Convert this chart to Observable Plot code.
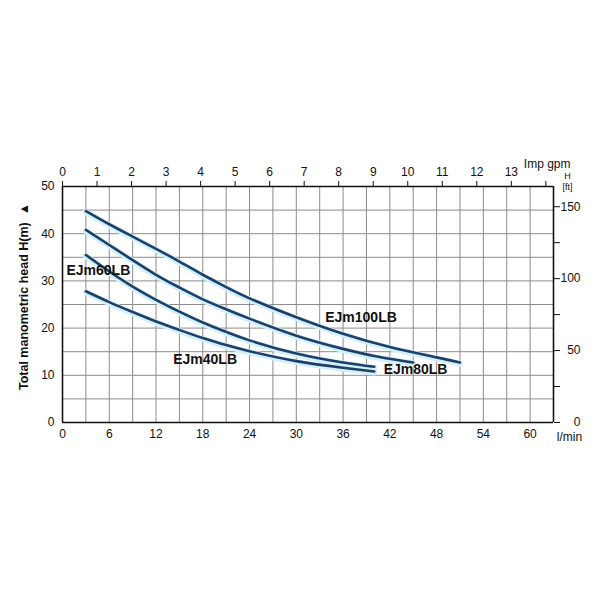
<!DOCTYPE html>
<html>
<head>
<meta charset="utf-8">
<script src="https://cdn.jsdelivr.net/npm/d3@7"></script>
<script src="https://cdn.jsdelivr.net/npm/@observablehq/plot@0.6"></script>
<style>
  html, body { margin: 0; padding: 0; background: #fff; }
  #chart svg { display: block; font-family: "Liberation Sans", Arial, sans-serif; }
</style>
</head>
<body>
<div id="chart"></div>
<script>
// Flow (l/min) and head (m) for each pump model
const q100 = [3, 6, 9, 12, 15, 18, 21, 24, 30, 36, 42, 48, 51];
const h100 = [44.8, 42, 39.4, 36.8, 34.1, 31.3, 28.7, 26.3, 22.3, 18.8, 16, 13.8, 12.7];
const q80 = [3, 6, 9, 12, 15, 18, 21, 24, 30, 36, 40, 45];
const h80 = [40.8, 37.6, 34.4, 31.3, 28.6, 26.1, 24, 22, 18.4, 15.6, 14.1, 12.7];
const q60 = [3, 6, 9, 12, 15, 18, 21, 24, 30, 36, 40];
const h60 = [35.5, 32, 28.8, 26, 23.5, 21.2, 19.2, 17.4, 14.6, 12.7, 11.8];
const q40 = [3, 6, 9, 12, 15, 18, 21, 24, 30, 36, 40];
const h40 = [27.8, 25.5, 23.4, 21.4, 19.6, 17.9, 16.4, 15.1, 13, 11.6, 10.8];

// Curve labels
const labelNames = ["EJm60LB", "EJm100LB", "EJm80LB", "EJm40LB"];
const labelX = [4.6, 38.3, 45.3, 18.3];
const labelY = [32.2, 22.2, 11.2, 13.4];

// Axis ticks
const xTicks = [0, 6, 12, 18, 24, 30, 36, 42, 48, 54, 60];
const yTicks = [0, 10, 20, 30, 40, 50];
const gpmTicks = [0, 1, 2, 3, 4, 5, 6, 7, 8, 9, 10, 11, 12, 13, 14];
const gpmLabels = ["0", "1", "2", "3", "4", "5", "6", "7", "8", "9", "10", "11", "12", "13", ""];
const ftTicks = [0, 50, 100, 150];
const ftMinor = [25, 75, 125];
const gridX = [3, 6, 9, 12, 15, 18, 21, 24, 27, 30, 33, 36, 39, 42, 45, 48, 51, 54, 57, 60];
const gridY = [5, 10, 15, 20, 25, 30, 35, 40, 45];

const LPM_PER_GPM = 4.43;
const FT_PER_M = 3.281;
const X_MAX = 63;

const series = [
  {name: "EJm100LB", q: q100, h: h100},
  {name: "EJm80LB", q: q80, h: h80},
  {name: "EJm60LB", q: q60, h: h60},
  {name: "EJm40LB", q: q40, h: h40}
];
const rows = series.flatMap(s => s.q.map((q, i) => ({model: s.name, q, h: s.h[i]})));
const labels = labelNames.map((n, i) => ({n, x: labelX[i], y: labelY[i]}));

const chart = Plot.plot({
  width: 600,
  height: 600,
  marginLeft: 62,
  marginRight: 47,
  marginTop: 186,
  marginBottom: 178,
  style: {fontFamily: "Liberation Sans, Arial, sans-serif", fontSize: "12px", color: "#111"},
  x: {domain: [0, X_MAX]},
  y: {domain: [0, 50]},
  marks: [
    Plot.ruleX(gridX, {stroke: "#8c8c8c", strokeWidth: 1}),
    Plot.ruleY(gridY, {stroke: "#8c8c8c", strokeWidth: 1}),
    Plot.line(rows, {x: "q", y: "h", z: "model", curve: "natural", stroke: "#d2f0fb", strokeWidth: 6, dy: 1}),
    Plot.line(rows, {x: "q", y: "h", z: "model", curve: "natural", stroke: "#1d3f68", strokeWidth: 2.6}),
    Plot.ruleX([0, X_MAX], {stroke: "#111", strokeWidth: 1.6}),
    Plot.ruleY([0, 50], {stroke: "#111", strokeWidth: 1.6}),
    Plot.text(labels, {x: "x", y: "y", text: "n", fontWeight: "bold", fontSize: 14, fill: "#111"}),
    Plot.axisX(xTicks, {anchor: "bottom", tickSize: 0, tickPadding: 7, label: null, fontSize: 12}),
    Plot.axisY(yTicks, {anchor: "left", tickSize: 0, tickPadding: 8, label: null, fontSize: 12}),
    Plot.axisX(gpmTicks.map(g => g * LPM_PER_GPM), {anchor: "top", tickSize: 6, tickPadding: 5, label: null, fontSize: 12,
      tickFormat: (d, i) => gpmLabels[i]}),
    Plot.axisY(ftTicks.concat(ftMinor).map(f => f / FT_PER_M), {anchor: "right", tickSize: 6, tickFormat: () => "", label: null}),
    Plot.text(ftTicks, {x: () => X_MAX, y: f => f / FT_PER_M, text: f => String(f), textAnchor: "end",
      dx: 27, fontSize: 12}),
    Plot.text(["Imp gpm"], {frameAnchor: "top-right", textAnchor: "end", lineAnchor: "middle", dx: 17, dy: -22, fontSize: 12}),
    Plot.text(["H"], {frameAnchor: "top-right", textAnchor: "middle", lineAnchor: "middle", dx: 14, dy: -10, fontSize: 9}),
    Plot.text(["[ft]"], {frameAnchor: "top-right", textAnchor: "middle", lineAnchor: "middle", dx: 14, dy: 0.5, fontSize: 9}),
    Plot.text(["l/min"], {frameAnchor: "bottom-right", textAnchor: "middle", lineAnchor: "middle", dx: 16, dy: 15, fontSize: 12}),
    Plot.text(["Total manometric head H(m)  \u25B2"], {frameAnchor: "left", textAnchor: "middle", lineAnchor: "middle",
      rotate: -90, dx: -39, dy: -8, fontWeight: "bold", fontSize: 12.5})
  ]
});
document.getElementById("chart").appendChild(chart);
</script>
</body>
</html>
